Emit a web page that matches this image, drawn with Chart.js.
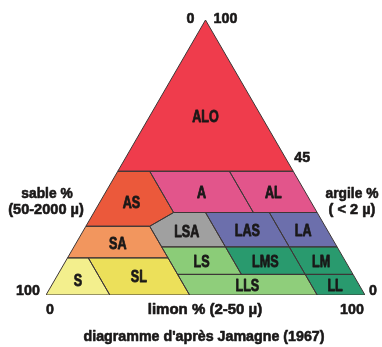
<!DOCTYPE html>
<html>
<head>
<meta charset="utf-8">
<script src="https://cdn.jsdelivr.net/npm/chart.js@4"></script>
<style>
  body { margin: 0; background: #fff; }
</style>
</head>
<body>
<canvas id="chart" width="382" height="347"></canvas>
<script>
// texture classes of the Jamagne triangle
const classes = ['ALO', 'AS', 'A', 'AL', 'SA', 'LSA', 'LAS', 'LA', 'S', 'SL', 'LS', 'LMS', 'LM', 'LLS', 'LL'];

// corners of each class: limon % (silt) ...
const limon = [
  [0, 0, 55],
  [0, 10, 25, 20, 0],
  [10, 35, 50, 25],
  [35, 55, 70, 50],
  [0, 20, 31.5, 0],
  [20, 25, 35, 47.5, 27.5],
  [35, 55, 67.5, 47.5],
  [55, 70, 82.5, 67.5],
  [0, 6.5, 20, 0],
  [6.5, 31.5, 45, 20],
  [27.5, 47.5, 57.5, 37.5],
  [47.5, 67.5, 77.5, 57.5],
  [67.5, 82.5, 92.5, 77.5],
  [37.5, 77.5, 85, 45],
  [77.5, 92.5, 100, 85],
];
// ... and argile % (clay), sable is what is left
const argile = [
  [45, 100, 45],
  [45, 45, 30, 25, 25],
  [45, 45, 30, 30],
  [45, 45, 30, 30],
  [25, 25, 13.5, 13.5],
  [25, 30, 30, 17.5, 17.5],
  [30, 30, 17.5, 17.5],
  [30, 30, 17.5, 17.5],
  [13.5, 13.5, 0, 0],
  [13.5, 13.5, 0, 0],
  [17.5, 17.5, 7.5, 7.5],
  [17.5, 17.5, 7.5, 7.5],
  [17.5, 17.5, 7.5, 7.5],
  [7.5, 7.5, 0, 0],
  [7.5, 7.5, 0, 0],
];

const sableTitle = ['sable %', '(50-2000 µ)'];
const argileTitle = ['argile %', '( < 2 µ)'];
const limonTitle = 'limon % (2-50 µ)';
const caption = "diagramme d'après Jamagne (1967)";
const argileMark = 45;

const colors = [
  '#ef3c4c', '#eb593b', '#e2558b', '#e2558b', '#f2965e',
  '#a0a0a0', '#6c6fac', '#6c6fac', '#f3ef8d', '#ece05a',
  '#8bcc78', '#299a6e', '#299a6e', '#8fce7b', '#299a6e',
];

const FONT = "'Liberation Sans', Arial, sans-serif";
const INK = '#1a1818';

// ternary -> plain x/y: x = limon + argile/2, y = argile
const toXY = (s, c) => ({ x: s + c / 2, y: c });

const datasets = classes.map((name, i) => {
  const pts = limon[i].map((s, j) => toXY(s, argile[i][j]));
  pts.push(pts[0]);
  return {
    label: name,
    data: pts,
    backgroundColor: colors[i],
    borderColor: '#3d3636',
    borderWidth: 1,
    fill: 'shape',
    pointRadius: 0,
    tension: 0,
  };
});

function say(ctx, text, x, y, size, squeeze, heavy) {
  ctx.save();
  ctx.font = 'bold ' + size + 'px ' + FONT;
  ctx.fillStyle = INK;
  ctx.strokeStyle = INK;
  ctx.lineWidth = heavy;
  ctx.lineJoin = 'round';
  ctx.textAlign = 'center';
  ctx.textBaseline = 'alphabetic';
  ctx.translate(x, y);
  ctx.scale(squeeze, 1);
  ctx.fillText(text, 0, 0);
  ctx.strokeText(text, 0, 0);
  ctx.restore();
}

const texts = {
  id: 'texts',
  afterDatasetsDraw(chart) {
    const { ctx, scales } = chart;
    const px = (s, c) => {
      const p = toXY(s, c);
      return [scales.x.getPixelForValue(p.x), scales.y.getPixelForValue(p.y)];
    };

    // class names at the centre of each shape
    classes.forEach((name, i) => {
      const pts = limon[i].map((s, j) => px(s, argile[i][j]));
      let a = 0, cx = 0, cy = 0;
      for (let k = 0; k < pts.length; k++) {
        const [x0, y0] = pts[k];
        const [x1, y1] = pts[(k + 1) % pts.length];
        const f = x0 * y1 - x1 * y0;
        a += f;
        cx += (x0 + x1) * f;
        cy += (y0 + y1) * f;
      }
      cx /= 3 * a;
      cy /= 3 * a;
      if (name === 'ALO') cy -= 5;
      say(ctx, name, cx, cy + 6, 17, 0.74, 0.8);
    });

    const [tx, ty] = px(0, 100);
    const [lx, ly] = px(0, 0);
    const [rx, ry] = px(100, 0);
    const [mx, my] = px(100 - argileMark, argileMark);

    say(ctx, '0', tx - 15, ty + 3, 15, 0.95, 0.6);
    say(ctx, '100', tx + 20, ty + 3, 15, 0.95, 0.6);
    say(ctx, String(argileMark), mx + 9, my - 9, 15, 0.95, 0.6);

    say(ctx, '100', lx - 18, ly, 15, 0.95, 0.6);
    say(ctx, '0', lx + 4, ly + 18.5, 15, 0.95, 0.6);
    say(ctx, '0', rx + 8, ry, 15, 0.95, 0.6);
    say(ctx, '100', rx - 13, ry + 18.5, 15, 0.95, 0.6);

    say(ctx, sableTitle[0], 47, 198, 15, 0.92, 0.6);
    say(ctx, sableTitle[1], 46, 213.5, 15, 0.97, 0.6);
    say(ctx, argileTitle[0], 352, 198, 15, 0.92, 0.6);
    say(ctx, argileTitle[1], 352, 213.5, 15, 0.97, 0.6);

    say(ctx, limonTitle, 205, ly + 18.5, 15, 1.0, 0.6);
    say(ctx, caption, 204, 341, 15, 0.95, 0.6);
  },
};

new Chart(document.getElementById('chart'), {
  type: 'line',
  data: { datasets },
  options: {
    responsive: false,
    animation: false,
    events: [],
    layout: { padding: { left: 46, right: 17, top: 20, bottom: 52 } },
    scales: {
      x: { type: 'linear', min: 0, max: 100, display: false },
      y: { type: 'linear', min: 0, max: 100, display: false },
    },
    plugins: {
      legend: { display: false },
      tooltip: { enabled: false },
      filler: { drawTime: 'beforeDatasetsDraw' },
    },
  },
  plugins: [texts],
});
</script>
</body>
</html>
